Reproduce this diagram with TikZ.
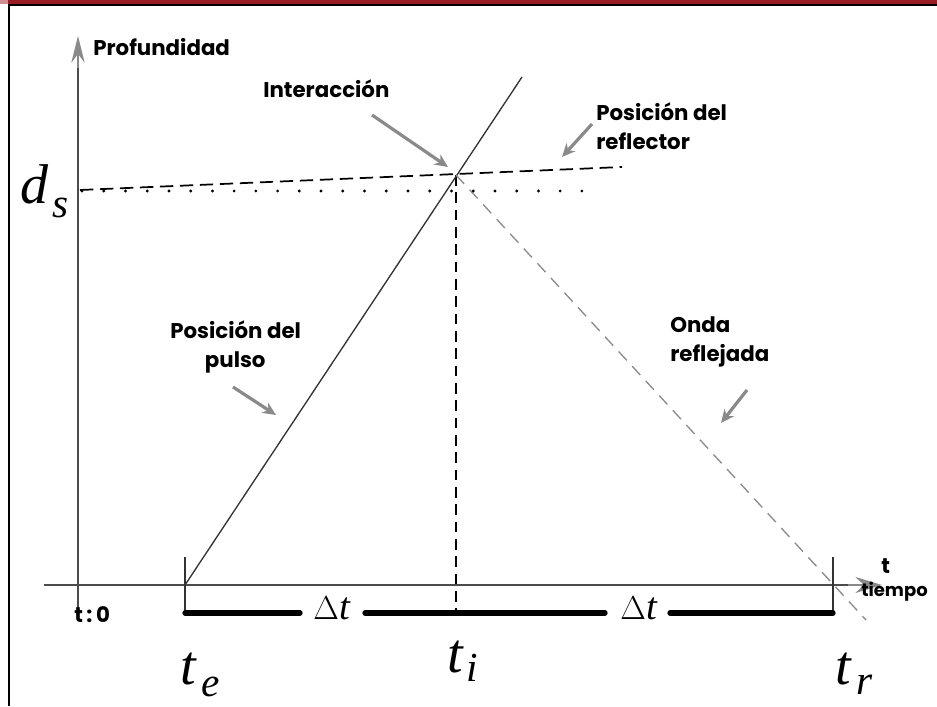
\documentclass[tikz,border=0pt]{standalone}
\usepackage{fontspec}
\newfontfamily\lab{Poppins}
\newfontfamily\tms{Liberation Serif}
\usetikzlibrary{arrows.meta}
\definecolor{framered}{HTML}{9B1B22}
\definecolor{arrgray}{HTML}{8A8A8A}
\newcommand{\bigsub}[4]{{\fontsize{42}{42}\selectfont\tms\itshape #1}\kern#3\raisebox{-#4}{\fontsize{31}{31}\selectfont\tms\itshape #2}}
\begin{document}
\begin{tikzpicture}[x=0.75pt,y=-0.75pt,
  labtext/.style={font=\lab\bfseries\fontsize{16}{22}\selectfont, align=left, inner sep=0pt},
  bigmath/.style={inner sep=0pt},
  pointer/.style={arrgray, line width=2.4pt, -{Stealth[length=10pt,width=9pt]}},
  axis/.style={draw=black!70, line width=1pt},
  tick/.style={draw=black!80, line width=0.9pt},
  bar/.style={line width=4pt, line cap=round}]
\useasboundingbox (0,0) rectangle (937,706);
\fill[white] (0,0) rectangle (937,706);
% frame
\fill[framered] (0,0) rectangle (937,4);
\fill[framered!50] (0,0) rectangle (8,4);
\fill[black] (8,4) rectangle (937,6);
\fill[black] (8,4) rectangle (10,706);

% coordinates
\coordinate (yend) at (78,612);
\coordinate (ytop) at (78,36);
\coordinate (xstart) at (44,585);
\coordinate (xend) at (882,585);
\coordinate (te) at (185,585);
\coordinate (I) at (456,175);
\coordinate (ptop) at (522,77);
\coordinate (rend) at (866,620);
\coordinate (refL) at (80,190);
\coordinate (refR) at (622,167);

% axes
\draw[axis] (yend) -- (78,66);
\draw[arrgray, line width=1.4pt, -{Stealth[length=20pt,width=10pt]}] (78,68) -- (ytop);
\draw[axis] (xstart) -- (850,585);
\draw[arrgray, line width=1.4pt, -{Stealth[length=20pt,width=12pt]}] (848,585) -- (xend);

% ticks
\draw[tick] (185,557) -- (185,612);
\draw[tick] (833,557) -- (833,612);
\draw[black, line width=1pt, dash pattern=on 8pt off 5pt] (I) -- (456,612);

% pulse line
\draw[black!80, line width=1pt] (te) -- (ptop);
% reflected wave
\draw[black!45, line width=1pt, dash pattern=on 9pt off 6pt] (I) -- (rend);
% reflector
\draw[black, line width=1.3pt, dash pattern=on 10pt off 5pt] (refL) -- (refR);
% dotted
\draw[black, line width=2.4pt, dash pattern=on 0pt off 16.3pt, line cap=round] (82,191) -- (590,191);

% pointers
\draw[pointer] (372,115) -- (448,167);
\draw[pointer] (592,124) -- (562,157);
\draw[pointer] (233,387) -- (276,415);
\draw[pointer] (747,390) -- (721,423);

% labels
\node[labtext, anchor=west] (prof) at (93,47) {Profundidad};
\node[labtext, anchor=west] (inter) at (263,89) {Interacción};
\node[labtext, anchor=north west] (refl) at (596,102) {Posición del\\reflector};
\node[labtext, anchor=north west] (puls) at (170,320) {Posición del\\\hspace*{26pt}pulso};
\node[labtext, anchor=north west] (onda) at (670,316) {Onda\\reflejada};
\node[labtext, anchor=west] (tax) at (881,566) {t};
\node[labtext, anchor=west, font=\lab\bfseries\fontsize{13.5}{16}\selectfont] (tiem) at (861,592) {tiempo};
\node[labtext, anchor=west] (t0) at (74,615) {t\,:\,0};

% delta bars
\draw[bar] (185,613) -- (300,613);
\draw[bar] (365,613) -- (605,613);
\draw[bar] (670,613) -- (833,613);
\node[font=\fontsize{29}{31}\selectfont\tms, inner sep=0pt] (dt1) at (332,608) {$\Delta$\textit{t}};
\node[font=\fontsize{29}{31}\selectfont\tms, inner sep=0pt] (dt2) at (639,608) {$\Delta$\textit{t}};

% big math labels
\node[bigmath, anchor=base west] (ds) at (20,203) {\bigsub{d}{s}{3pt}{11pt}};
\node[bigmath, anchor=base west] (tel) at (180,684) {\bigsub{t}{e}{4pt}{9pt}};
\node[bigmath, anchor=base west] (til) at (447,672) {\bigsub{t}{i}{3pt}{7pt}};
\node[bigmath, anchor=base west] (trl) at (835,684) {\bigsub{t}{r}{4pt}{8pt}};
\end{tikzpicture}
\end{document}
